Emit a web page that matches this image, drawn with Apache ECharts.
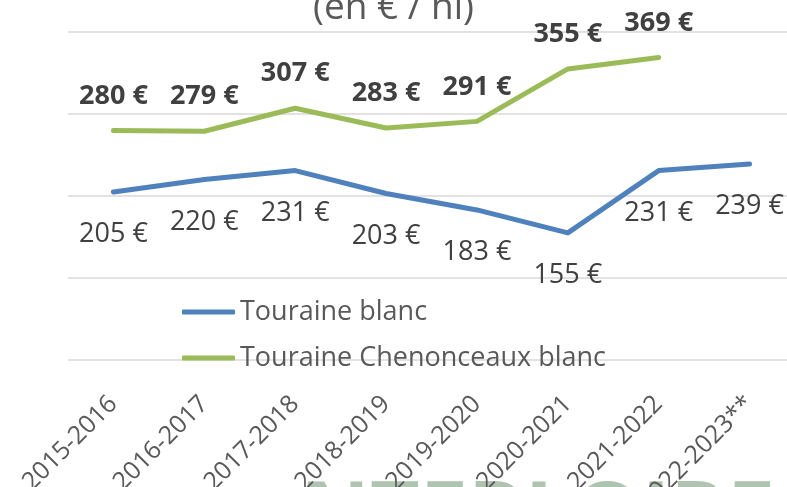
<!DOCTYPE html>
<html>
<head>
<meta charset="utf-8">
<script src="https://cdn.jsdelivr.net/npm/echarts@6/dist/echarts.min.js"></script>
<style>
  html, body { margin: 0; padding: 0; background: #fff; }
  #chart { width: 787px; height: 487px; }
</style>
</head>
<body>
<div id="chart"></div>
<script>
// campagnes
const categories = ['2015-2016', '2016-2017', '2017-2018', '2018-2019', '2019-2020', '2020-2021', '2021-2022', '2022-2023**']
// prix moyens (en € / hl)
const tourainBlanc = [205, 220, 231, 203, 183, 155, 231, 239]
const chenonceauxBlanc = [280, 279, 307, 283, 291, 355, 369, null]
const seriesNames = ['Touraine blanc', 'Touraine Chenonceaux blanc']

const fontFamily = '"Open Sans", sans-serif'
const textColor = '#595959'

const chart = echarts.init(document.getElementById('chart'), null, { renderer: 'canvas' })

const option = {
    animation: false,
    backgroundColor: '#ffffff',
    textStyle: { fontFamily: fontFamily },
    graphic: [
        {
            type: 'text',
            left: 'center',
            top: -10,
            style: {
                text: '(en € / hl)',
                fontSize: 37,
                fontFamily: fontFamily,
                fill: textColor
            }
        },
        {
            type: 'text',
            left: 300,
            top: 475,
            z: -1,
            style: {
                text: 'NTERLOIRE',
                fontSize: 86,
                fontWeight: 'bold',
                fontFamily: fontFamily,
                fill: 'rgba(130,165,135,0.65)'
            }
        }
    ],
    legend: {
        orient: 'vertical',
        left: 182,
        top: 297,
        padding: 0,
        icon: 'roundRect',
        itemWidth: 53,
        itemHeight: 5,
        itemGap: 16,
        textStyle: {
            fontSize: 27,
            lineHeight: 30,
            color: textColor,
            fontFamily: fontFamily
        },
        data: seriesNames
    },
    grid: {
        left: 68,
        right: -8,
        top: 32,
        bottom: 127,
        outerBoundsMode: 'none',
        containLabel: false
    },
    xAxis: {
        type: 'category',
        data: categories,
        boundaryGap: true,
        axisLine: { show: false },
        axisTick: { show: false },
        axisLabel: {
            interval: 0,
            rotate: 45,
            margin: 40,
            fontSize: 25,
            color: textColor,
            fontFamily: fontFamily
        },
        splitLine: { show: false }
    },
    yAxis: {
        type: 'value',
        min: 0,
        max: 400,
        interval: 100,
        axisLine: { show: false },
        axisTick: { show: false },
        axisLabel: { show: false },
        splitLine: { lineStyle: { color: '#d9d9d9', width: 1.5 } }
    },
    series: [
        {
            name: seriesNames[0],
            type: 'line',
            data: tourainBlanc,
            showSymbol: true,
            symbol: 'circle',
            symbolSize: 2,
            lineStyle: { color: '#4f81bd', width: 5, cap: 'round', join: 'round' },
            itemStyle: { color: '#4f81bd' },
            label: {
                show: true,
                position: 'bottom',
                distance: 28,
                fontSize: 27,
                color: '#404040',
                fontFamily: fontFamily,
                formatter: p => p.value + ' €'
            }
        },
        {
            name: seriesNames[1],
            type: 'line',
            data: chenonceauxBlanc,
            showSymbol: true,
            symbol: 'circle',
            symbolSize: 2,
            lineStyle: { color: '#9bbb59', width: 5, cap: 'round', join: 'round' },
            itemStyle: { color: '#9bbb59' },
            label: {
                show: true,
                position: 'top',
                distance: 20,
                fontSize: 27,
                fontWeight: 'bold',
                color: '#404040',
                fontFamily: fontFamily,
                formatter: p => p.value + ' €'
            }
        }
    ]
}

chart.setOption(option)
</script>
</body>
</html>
